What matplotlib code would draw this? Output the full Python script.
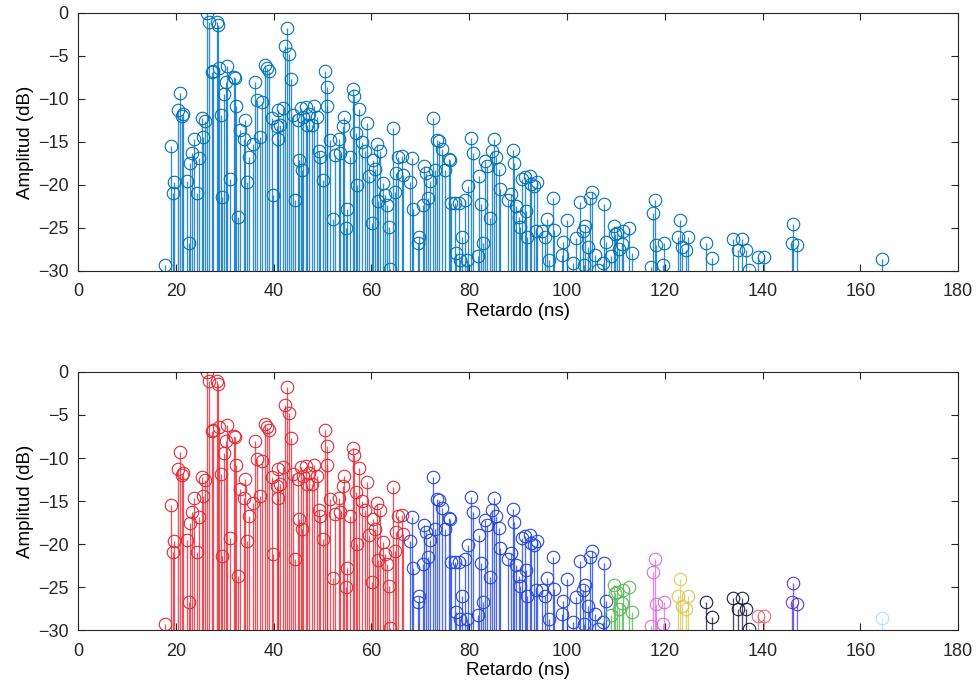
"""Power delay profile: stem plots of path amplitudes vs. delay."""

import numpy as np
import matplotlib

matplotlib.use("Agg")
import matplotlib.pyplot as plt

plt.rcParams["font.family"] = ["Liberation Sans", "DejaVu Sans"]

# Multipath components: delay (ns) and amplitude (dB)
delay_ns = [
    17.8, 19.0, 19.5, 19.6, 20.5, 20.9, 21.3, 21.5, 22.2, 22.6, 22.8, 23.3,
    23.7, 24.4, 24.8, 25.3, 25.6, 25.9, 26.4, 26.8, 27.3, 27.7, 28.4, 28.7,
    28.9, 29.2, 29.4, 29.9, 30.3, 30.4, 31.1, 31.8, 32.1, 32.3, 32.8, 33.1,
    34.0, 34.2, 34.5, 35.0, 35.8, 36.2, 36.7, 37.2, 37.6, 38.2, 38.6, 39.1,
    39.6, 39.9, 40.6, 40.8, 41.0, 41.4, 41.9, 42.3, 42.8, 43.2, 43.5, 44.0,
    44.4, 44.9, 45.1, 45.5, 45.9, 46.1, 46.6, 46.9, 47.3, 47.8, 48.3, 48.8,
    49.2, 49.5, 50.0, 50.5, 50.9, 51.0, 51.5, 52.2, 52.6, 53.3, 53.6, 54.1,
    54.4, 54.8, 55.1, 55.6, 56.2, 56.4, 56.9, 57.1, 57.5, 58.0, 58.7, 59.2,
    59.6, 60.1, 60.4, 60.8, 61.1, 61.4, 61.8, 62.4, 62.8, 63.1, 63.5, 63.9,
    64.4, 64.8, 65.0, 65.5, 66.2, 66.5, 67.9, 68.4, 68.6, 69.6, 69.8, 70.5,
    70.8, 71.2, 71.5, 72.0, 72.5, 73.0, 73.4, 73.9, 74.4, 75.1, 75.8, 76.1,
    76.3, 77.1, 77.3, 78.0, 78.1, 78.5, 79.2, 79.5, 79.8, 80.3, 80.7, 81.7,
    82.1, 82.4, 82.9, 83.3, 83.7, 84.3, 84.6, 85.1, 85.5, 86.0, 86.3, 88.0,
    88.5, 88.9, 89.2, 89.6, 90.1, 90.3, 90.8, 91.4, 91.6, 91.8, 92.4, 92.7,
    93.2, 93.7, 93.8, 94.8, 95.5, 95.9, 96.4, 97.2, 97.4, 98.9, 99.1, 100.1,
    101.2, 101.8, 102.6, 103.2, 103.5, 103.7, 104.3, 104.8, 105.2, 105.7,
    106.4, 107.3, 107.6, 108.0, 109.1, 109.6, 109.8, 110.3, 110.7, 111.2,
    111.5, 112.6, 113.3, 117.1, 117.6, 118.1, 118.3, 119.6, 119.9, 122.7,
    123.1, 123.5, 124.4, 124.8, 128.5, 129.6, 134.0, 135.0, 135.7, 136.6,
    137.3, 139.1, 140.2, 146.0, 146.3, 147.0, 164.4,
]
amplitude_db = [
    -29.3, -15.5, -20.9, -19.6, -11.3, -9.3, -12.0, -11.8, -19.5, -26.7, -17.5, -16.3,
    -14.6, -20.9, -16.9, -12.2, -14.4, -12.6, 0.0, -1.1, -6.9, -6.8, -1.1, -1.4,
    -6.4, -11.9, -21.4, -9.4, -8.0, -6.2, -19.3, -7.4, -7.6, -10.8, -23.7, -13.6,
    -14.6, -12.4, -19.6, -16.7, -15.2, -8.0, -10.1, -14.4, -10.3, -6.0, -6.4, -6.8,
    -12.2, -21.2, -13.2, -14.6, -11.3, -13.0, -11.1, -3.8, -1.7, -4.8, -7.7, -11.9,
    -21.7, -12.4, -17.1, -11.1, -18.3, -12.1, -10.9, -13.0, -11.7, -13.0, -10.8, -12.1,
    -16.1, -16.7, -19.4, -6.8, -10.8, -8.6, -14.8, -23.9, -16.5, -14.6, -16.3, -13.2,
    -12.1, -25.0, -22.8, -16.7, -8.8, -9.7, -14.0, -20.0, -11.2, -15.0, -16.1, -12.8,
    -19.0, -24.4, -17.1, -18.2, -15.2, -21.9, -16.1, -19.8, -21.2, -22.3, -24.9, -29.8,
    -13.4, -20.8, -18.6, -16.7, -16.6, -18.8, -19.7, -16.9, -22.8, -26.8, -26.0, -22.3,
    -17.8, -18.6, -21.5, -19.5, -12.2, -18.3, -14.8, -14.9, -15.8, -18.3, -17.0, -17.1,
    -22.1, -22.1, -27.9, -22.1, -28.7, -26.0, -21.8, -28.7, -20.1, -14.5, -16.3, -28.2,
    -18.9, -22.2, -26.7, -17.2, -17.8, -23.8, -16.0, -14.7, -16.7, -18.1, -20.5, -21.7,
    -21.0, -15.9, -17.4, -22.4, -23.7, -24.9, -19.3, -19.1, -23.0, -26.0, -18.9, -19.9,
    -20.1, -25.4, -19.7, -25.4, -26.0, -23.9, -28.7, -21.5, -25.2, -28.1, -26.6, -24.1,
    -29.1, -26.2, -22.0, -25.3, -29.3, -24.8, -27.2, -21.5, -20.8, -28.1,
    -29.9, -29.1, -22.2, -26.6, -28.3, -24.8, -25.7, -25.6, -27.5, -26.9,
    -25.4, -25.0, -27.9, -29.5, -23.3, -21.7, -27.0, -29.3, -26.8, -26.0,
    -24.1, -27.2, -27.6, -26.1, -26.8, -28.5, -26.3, -27.6, -26.3, -27.6,
    -29.9, -28.4, -28.4, -26.8, -24.5, -27.0, -28.6,
]

# Cluster boundaries (ns) used for the lower panel
cluster_edges = [0, 67, 108.5, 115, 121, 126, 138, 142, 150, 180]
cluster_colors = ["#E42A36", "#2446E0", "#5DB85D", "#DE6EE0", "#DCCB55",
                  "#1E1E3C", "#DC7080", "#5A3CE0", "#A8E6F0"]

FLOOR = -30


def draw_stems(ax, x, y, color):
    if len(x) == 0:
        return
    markers, stems, base = ax.stem(x, y, bottom=FLOOR, basefmt=" ")
    plt.setp(stems, color=color, linewidth=0.95, alpha=0.8)
    plt.setp(markers, color=color, markerfacecolor="none", markersize=9,
             markeredgewidth=0.8)


def style_axes(ax):
    ax.set_xlim(0, 180)
    ax.set_ylim(FLOOR, 0)
    ax.set_xticks(np.arange(0, 181, 20))
    ax.set_yticks(np.arange(-30, 1, 5))
    ax.tick_params(direction="in", top=True, right=True, labelsize=13,
                   length=5, width=0.8, colors="#262626")
    ax.tick_params(axis="x", pad=9)
    ax.tick_params(axis="y", pad=7)
    for s in ax.spines.values():
        s.set_color("#262626")
        s.set_linewidth(0.8)
    ax.set_xlabel("Retardo (ns)", fontsize=13.5, labelpad=2)
    ax.set_ylabel("Amplitud (dB)", fontsize=13.5, labelpad=3)


x = np.array(delay_ns)
y = np.array(amplitude_db)

fig = plt.figure(figsize=(9.79, 6.89), dpi=100)
ax1 = fig.add_axes([0.0797, 0.6067, 0.899, 0.3745])
ax2 = fig.add_axes([0.0797, 0.0856, 0.899, 0.3745])

# Top: all components in one colour
draw_stems(ax1, x, y, "#0072BD")
style_axes(ax1)

# Bottom: components coloured by cluster
for i, col in enumerate(cluster_colors):
    sel = (x >= cluster_edges[i]) & (x < cluster_edges[i + 1])
    draw_stems(ax2, x[sel], y[sel], col)
style_axes(ax2)

fig.savefig("out.png", dpi=100)
